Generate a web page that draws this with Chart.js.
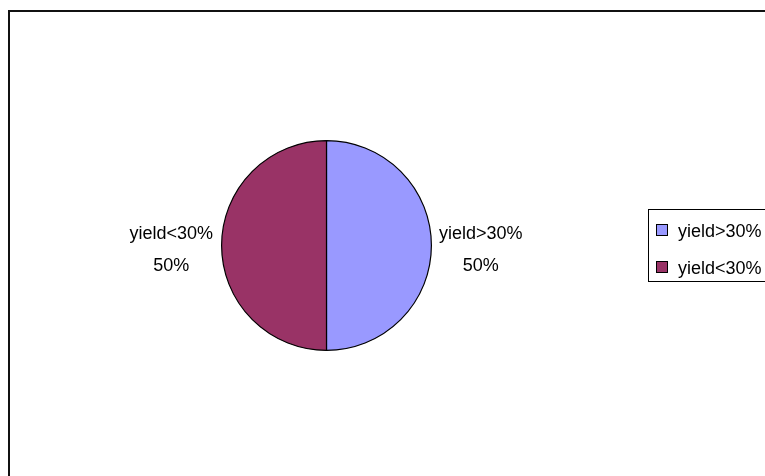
<!DOCTYPE html>
<html>
<head>
<meta charset="utf-8">
<style>
  html, body { margin: 0; padding: 0; background: #fff; }
  #wrap { position: relative; width: 765px; height: 476px; }
  canvas { display: block; }
</style>
<script src="https://cdn.jsdelivr.net/npm/chart.js@4/dist/chart.umd.min.js"></script>
</head>
<body>
<div id="wrap"><canvas id="c" width="765" height="476"></canvas></div>
<script>
// Share of runs by yield band
const categories = ['yield>30%', 'yield<30%'];
const shares = [50, 50];
const sliceColors = ['#9999FF', '#993366'];

const FONT = '18px "Liberation Sans", Arial, sans-serif';

// Outer frame of the chart object (runs off the right and bottom edges)
const framePlugin = {
  id: 'frame',
  beforeDraw(chart) {
    const ctx = chart.ctx;
    ctx.save();
    ctx.fillStyle = '#fff';
    ctx.fillRect(0, 0, chart.width, chart.height);
    ctx.strokeStyle = '#111';
    ctx.lineWidth = 2;
    ctx.strokeRect(9, 11, 900, 600);
    ctx.restore();
  }
};

// Category name + percentage printed just outside each slice
const sliceLabels = {
  id: 'sliceLabels',
  afterDatasetsDraw(chart) {
    const ctx = chart.ctx;
    const meta = chart.getDatasetMeta(0);
    const vals = chart.data.datasets[0].data;
    const total = vals.reduce((a, b) => a + b, 0);
    ctx.save();
    ctx.font = FONT;
    ctx.fillStyle = '#000';
    ctx.textBaseline = 'alphabetic';
    ctx.textAlign = 'center';
    meta.data.forEach((arc, i) => {
      const p = arc.getProps(['x', 'y', 'startAngle', 'endAngle', 'outerRadius'], true);
      const mid = (p.startAngle + p.endAngle) / 2;
      const r = p.outerRadius + 8.5;
      const ax = p.x + Math.cos(mid) * r;
      const ay = p.y + Math.sin(mid) * r;
      const l1 = chart.data.labels[i];
      const l2 = Math.round(vals[i] / total * 100) + '%';
      const w = Math.max(ctx.measureText(l1).width, ctx.measureText(l2).width);
      const left = Math.cos(mid) >= 0 ? ax - 1 : ax - w;
      const cx = left + w / 2;
      ctx.fillText(l1, cx, ay - 7);
      ctx.fillText(l2, cx, ay + 25);
    });
    ctx.restore();
  }
};

// Boxed legend on the right
const boxLegend = {
  id: 'boxLegend',
  afterDraw(chart) {
    const ctx = chart.ctx;
    const ds = chart.data.datasets[0];
    ctx.save();
    ctx.strokeStyle = '#000';
    ctx.lineWidth = 1;
    ctx.strokeRect(648.5, 209.5, 200, 72);
    ctx.font = FONT;
    ctx.textAlign = 'left';
    ctx.textBaseline = 'alphabetic';
    chart.data.labels.forEach((lab, i) => {
      const y = 224 + i * 37;
      ctx.fillStyle = ds.backgroundColor[i];
      ctx.fillRect(656, y, 12, 12);
      ctx.strokeStyle = '#000';
      ctx.strokeRect(656.5, y + 0.5, 11, 11);
      ctx.fillStyle = '#000';
      ctx.fillText(lab, 678, y + 13);
    });
    ctx.restore();
  }
};

new Chart(document.getElementById('c'), {
  type: 'pie',
  data: {
    labels: categories,
    datasets: [{
      data: shares,
      backgroundColor: sliceColors,
      borderColor: '#000',
      borderWidth: 1.2
    }]
  },
  options: {
    responsive: false,
    animation: false,
    devicePixelRatio: 1,
    layout: { padding: { left: 221, right: 333, top: 140, bottom: 125 } },
    plugins: {
      legend: { display: false },
      tooltip: { enabled: false },
      title: { display: false }
    }
  },
  plugins: [framePlugin, sliceLabels, boxLegend]
});
</script>
</body>
</html>
